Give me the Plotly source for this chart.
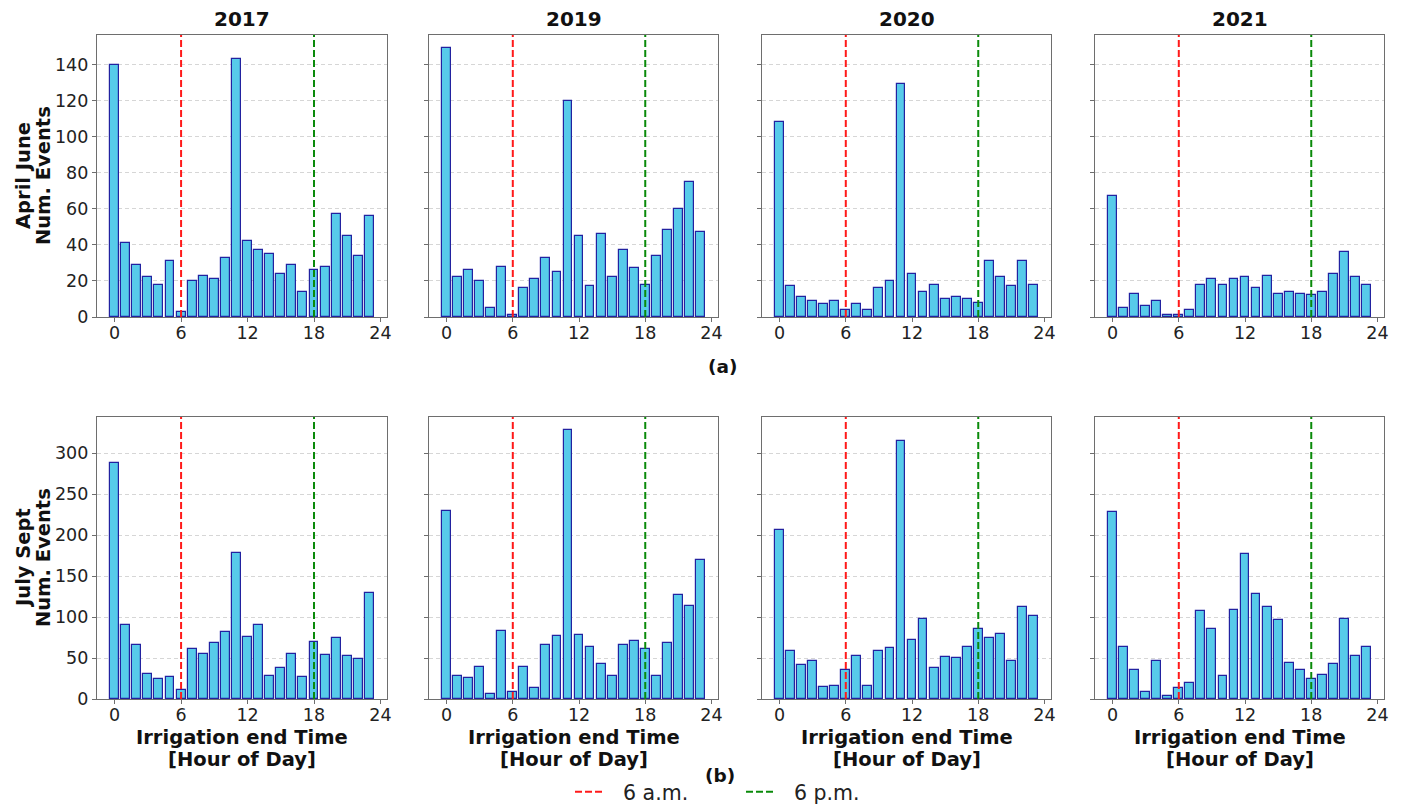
import plotly.graph_objects as go

# Hour of day bins
hours = list(range(24))
years = ["2017", "2019", "2020", "2021"]

# April-June irrigation end events per hour
aj_2017 = [140, 41, 29, 22, 18, 31, 3, 20, 23, 21, 33, 143, 42, 37, 35, 24, 29, 14, 26, 28, 57, 45, 34, 56]
aj_2019 = [149, 22, 26, 20, 5, 28, 1, 16, 21, 33, 25, 120, 45, 17, 46, 22, 37, 27, 18, 34, 48, 60, 75, 47]
aj_2020 = [108, 17, 11, 9, 7, 9, 4, 7, 4, 16, 20, 129, 24, 14, 18, 10, 11, 10, 8, 31, 22, 17, 31, 18]
aj_2021 = [67, 5, 13, 6, 9, 1, 1, 4, 18, 21, 18, 21, 22, 16, 23, 13, 14, 13, 12, 14, 24, 36, 22, 18]

# July-September irrigation end events per hour
js_2017 = [288, 90, 66, 31, 24, 27, 11, 61, 55, 68, 82, 178, 76, 90, 28, 38, 55, 27, 70, 54, 74, 53, 49, 129]
js_2019 = [230, 28, 26, 39, 6, 83, 9, 39, 13, 66, 77, 328, 78, 64, 43, 28, 66, 71, 61, 28, 68, 127, 113, 170]
js_2020 = [207, 59, 41, 47, 15, 16, 35, 52, 16, 59, 62, 315, 72, 98, 38, 51, 50, 63, 85, 74, 79, 46, 112, 101]
js_2021 = [228, 63, 36, 8, 47, 4, 13, 19, 107, 85, 28, 109, 177, 128, 112, 96, 44, 36, 25, 29, 43, 98, 53, 64]

rows = [
    ("April June", [aj_2017, aj_2019, aj_2020, aj_2021], [0, 20, 40, 60, 80, 100, 120, 140]),
    ("July Sept", [js_2017, js_2019, js_2020, js_2021], [0, 50, 100, 150, 200, 250, 300]),
]

W, H = 1402, 805
FONT = "DejaVu Sans"
BAR_FILL = "#57CBEA"
BAR_EDGE = "#2222A0"
FRAME = "#6e6e6e"

col_x = [(97, 387), (429, 718), (762, 1051), (1095, 1384)]
row_y = [(35, 317), (417, 699)]


def px_x(v):
    return v / W


def px_y(v):
    return 1 - v / H


def label(text, x, y, size, angle=0):
    return dict(text=text, x=px_x(x), y=px_y(y), xref="paper", yref="paper",
                xanchor="center", yanchor="middle", showarrow=False, textangle=angle,
                font=dict(family=FONT, size=size, color="#111"))


fig = go.Figure()
annotations = []
shapes = []
ax_idx = 0
for r, (season, series, yticks) in enumerate(rows):
    ymax = max(max(s) for s in series) * 1.05
    for c, vals in enumerate(series):
        ax_idx += 1
        xa = "x" if ax_idx == 1 else f"x{ax_idx}"
        ya = "y" if ax_idx == 1 else f"y{ax_idx}"
        fig.add_trace(go.Bar(
            x=hours, y=vals, width=0.8,
            marker=dict(color=BAR_FILL, line=dict(color=BAR_EDGE, width=1.2)),
            xaxis=xa, yaxis=ya, showlegend=False,
        ))
        x0, x1 = col_x[c]
        y0, y1 = row_y[r]
        fig.update_layout(**{
            ("xaxis" if ax_idx == 1 else f"xaxis{ax_idx}"): dict(
                domain=[px_x(x0), px_x(x1)], anchor=ya,
                range=[-1.59, 24.59], tickvals=[0, 6, 12, 18, 24],
                ticks="outside", ticklen=3.5, tickcolor=FRAME, ticklabelstandoff=-4,
                showgrid=False, zeroline=False,
                showline=True, linecolor=FRAME, linewidth=1.3, mirror=True,
                tickfont=dict(family=FONT, size=17.5, color="#222"),
            ),
            ("yaxis" if ax_idx == 1 else f"yaxis{ax_idx}"): dict(
                domain=[px_y(y1), px_y(y0)], anchor=xa,
                range=[0, ymax], tickvals=yticks,
                showticklabels=(c == 0),
                ticks="outside", ticklen=4, tickcolor=FRAME,
                showgrid=True, gridcolor="#d6d6d6", griddash="4px,3px", gridwidth=0.8,
                zeroline=False,
                showline=True, linecolor=FRAME, linewidth=1.3, mirror=True,
                tickfont=dict(family=FONT, size=17.5, color="#222"),
            ),
        })
        # 6 a.m. and 6 p.m. reference lines
        for hx, colr in ((6, "#ff1a1a"), (18, "#0a8a0a")):
            shapes.append(dict(
                type="line", xref=xa, yref=f"{ya} domain",
                x0=hx, x1=hx, y0=0, y1=1,
                line=dict(color=colr, width=2, dash="7px,3px"), layer="above",
            ))
        if r == 0:
            annotations.append(label(f"<b>{years[c]}</b>", (x0 + x1) / 2, 19, 20))
        else:
            annotations.append(label("<b>Irrigation end Time</b>", (x0 + x1) / 2, 737, 19.5))
            annotations.append(label("<b>[Hour of Day]</b>", (x0 + x1) / 2, 759, 19.5))
    ymid = (row_y[r][0] + row_y[r][1]) / 2
    annotations.append(label(f"<b>{season}</b>", 23, ymid, 19.5, angle=-90))
    annotations.append(label("<b>Num. Events</b>", 43, ymid, 19.5, angle=-90))

annotations.append(label("<b>(a)</b>", 722, 366, 18.5))
annotations.append(label("<b>(b)</b>", 720, 775, 18.5))

# Legend entries for the reference lines
fig.add_trace(go.Scatter(x=[None], y=[None], mode="lines", name="\u00a0\u00a06 a.m.",
                         line=dict(color="#ff1a1a", width=2, dash="7px,3px")))
fig.add_trace(go.Scatter(x=[None], y=[None], mode="lines", name="\u00a0\u00a06 p.m.",
                         line=dict(color="#0a8a0a", width=2, dash="7px,3px")))

fig.update_layout(
    width=W, height=H,
    margin=dict(l=0, r=0, t=0, b=0, autoexpand=False),
    paper_bgcolor="white", plot_bgcolor="white",
    bargap=0, showlegend=True,
    legend=dict(orientation="h", x=px_x(570), xanchor="left", y=px_y(792), yanchor="middle",
                font=dict(family=FONT, size=20.5, color="#222"),
                entrywidth=126, entrywidthmode="pixels",
                bgcolor="rgba(0,0,0,0)"),
    annotations=annotations, shapes=shapes,
)

fig.write_html("out.html")
